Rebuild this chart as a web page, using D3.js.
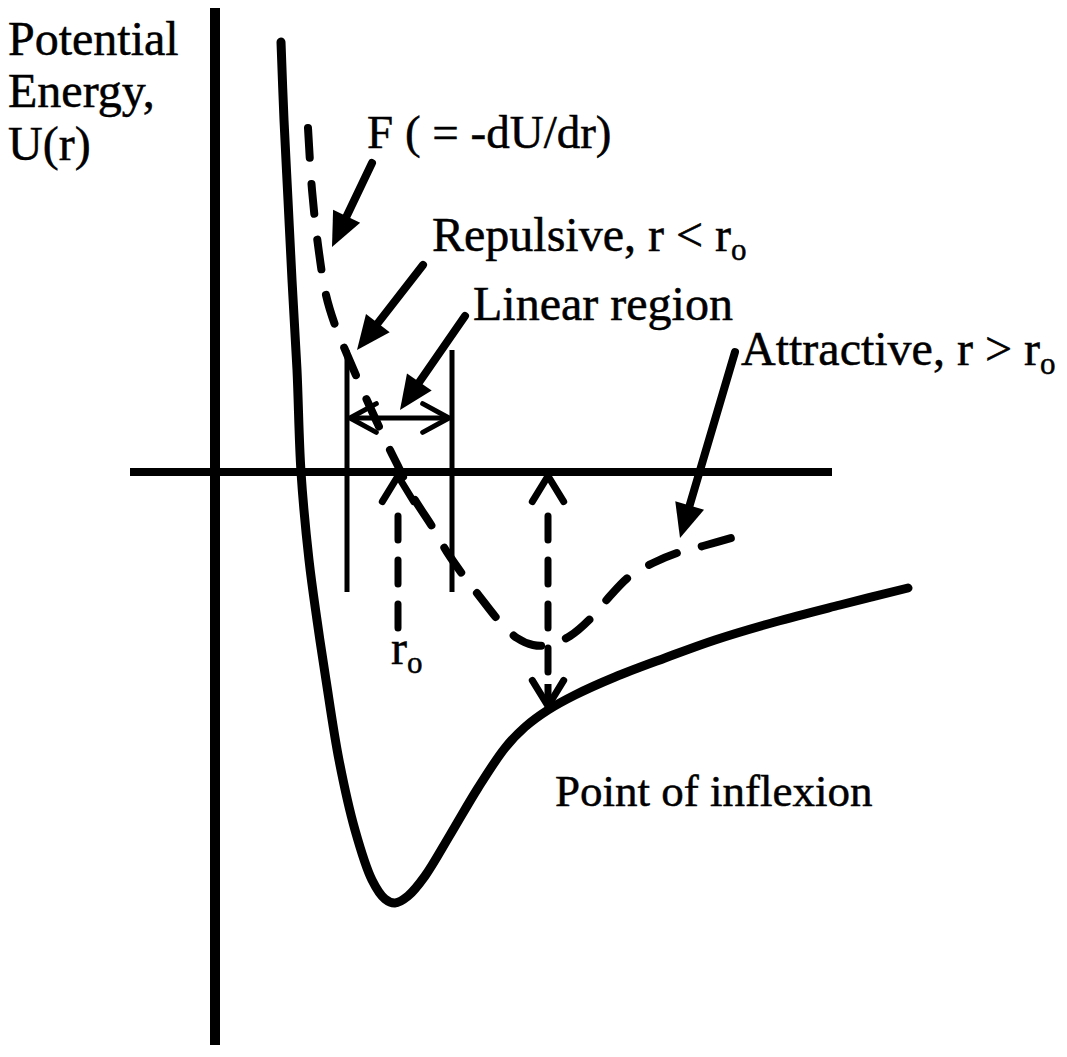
<!DOCTYPE html>
<html>
<head>
<meta charset="utf-8">
<script src="https://cdn.jsdelivr.net/npm/d3@7"></script>
<style>
  body { margin: 0; background: #fff; }
  svg text { font-family: "Liberation Serif", "Times New Roman", serif; fill: #000; stroke: #000; stroke-width: 0.5px; }
</style>
</head>
<body>
<div id="chart"></div>
<script>
// potential energy curve U(r) (diagram units)
const uCurve = [
    [6.6, 43.0], [6.9, 35.2], [7.3, 27.2], [7.7, 19.2], [8.2, 10.2], [8.6, 0],
    [9.4, -8.8], [10.2, -14.8], [11.1, -20.8], [12.4, -28.8], [14.0, -35.8],
    [15.7, -40.8], [17.0, -42.7], [18.0, -43.1], [19.3, -42.4], [21.0, -40.4],
    [23.5, -36.3], [26.3, -31.6], [29.0, -27.6], [31.0, -25.5], [33.3, -23.8],
    [36.0, -22.3], [40.0, -20.5], [45.0, -18.6], [50.0, -16.8], [56.0, -15.0],
    [62.5, -13.3], [69.3, -11.6]
];

// force curve F = -dU/dr (dashed)
const fCurve = [
    [9.3, 34.4], [9.7, 28.2], [10.3, 22.7], [11.1, 17.7], [12.0, 14.7],
    [13.1, 12.0], [14.3, 9.2], [16.0, 5.4], [17.5, 2.2], [18.3, 0.6],
    [19.7, -2.3], [21.8, -5.6], [23.2, -8.0], [24.8, -10.3], [26.5, -12.5],
    [28.5, -15.0], [30.2, -16.6], [31.8, -17.3], [33.3, -17.3], [35.5, -16.4],
    [37.8, -14.4], [39.5, -12.4], [41.5, -10.4], [43.8, -9.1], [46.5, -8.0],
    [48.8, -7.4], [52.0, -6.5]
];

// key positions
const r0 = 18.3;
const rInflexion = 33.3;
const uInflexion = -23.4;
const linearRegion = [13.2, 23.7];

// pointer arrows: [from, to]
const pointers = [
    [[15.7, 30.9], [11.7, 22.5]],   // F
    [[20.8, 20.7], [14.2, 12.2]],   // Repulsive
    [[25.0, 15.6], [18.5, 6.2]],    // Linear region
    [[52.0, 12.0], [46.5, -6.6]]    // Attractive
];

// labels: text, subscript, r, U
const labels = [
    {text: "Potential", sub: "", r: -20.7, u: 41.7, size: 48},
    {text: "Energy,", sub: "", r: -20.7, u: 36.5, size: 48},
    {text: "U(r)", sub: "", r: -20.7, u: 31.2, size: 48},
    {text: "F ( = -dU/dr)", sub: "", r: 15.2, u: 32.4, size: 47},
    {text: "Repulsive, r < r", sub: "o", r: 21.7, u: 22.1, size: 48},
    {text: "Linear region", sub: "", r: 25.8, u: 15.2, size: 48},
    {text: "Attractive, r > r", sub: "o", r: 52.6, u: 10.7, size: 48},
    {text: "r", sub: "o", r: 17.6, u: -19.2, size: 48},
    {text: "Point of inflexion", sub: "", r: 34.0, u: -33.4, size: 45}
];

const width = 1067, height = 1057;

const svg = d3.select("#chart").append("svg")
    .attr("width", width)
    .attr("height", height);

svg.append("rect").attr("width", width).attr("height", height).attr("fill", "#fff");

const x = d3.scaleLinear().domain([0, 70]).range([215, 915]);
const y = d3.scaleLinear().domain([-56, 47.2]).range([1032, 0]);

const line = d3.line()
    .x(d => x(d[0]))
    .y(d => y(d[1]))
    .curve(d3.curveCatmullRom.alpha(0.5));

// axes
svg.append("line")
    .attr("x1", x(0)).attr("x2", x(0))
    .attr("y1", y(46.4)).attr("y2", y(-57.3))
    .attr("stroke", "#000").attr("stroke-width", 10);

svg.append("line")
    .attr("x1", x(-8.5)).attr("x2", x(61.7))
    .attr("y1", y(0)).attr("y2", y(0))
    .attr("stroke", "#000").attr("stroke-width", 8);

// U(r)
svg.append("path")
    .datum(uCurve)
    .attr("d", line)
    .attr("fill", "none")
    .attr("stroke", "#000")
    .attr("stroke-width", 9)
    .attr("stroke-linecap", "round");

// F dashed
svg.append("path")
    .datum(fCurve)
    .attr("d", line)
    .attr("fill", "none")
    .attr("stroke", "#000")
    .attr("stroke-width", 8)
    .attr("stroke-dasharray", "30 26")
    .attr("stroke-linecap", "round");

// linear region bracket
linearRegion.forEach(r => {
    svg.append("line")
        .attr("x1", x(r)).attr("x2", x(r))
        .attr("y1", y(12.2)).attr("y2", y(-12.0))
        .attr("stroke", "#000").attr("stroke-width", 5);
});

// open arrow head (chevron) at tip, pointing away from "from"
function chevron(tip, from, len, ang, sw) {
    let a = Math.atan2(from[1] - tip[1], from[0] - tip[0]);
    let p1 = [tip[0] + len * Math.cos(a + ang), tip[1] + len * Math.sin(a + ang)];
    let p2 = [tip[0] + len * Math.cos(a - ang), tip[1] + len * Math.sin(a - ang)];
    svg.append("path")
        .attr("d", d3.line()([p1, tip, p2]))
        .attr("fill", "none")
        .attr("stroke", "#000")
        .attr("stroke-width", sw)
        .attr("stroke-linecap", "round")
        .attr("stroke-linejoin", "round");
}

// double arrow across linear region
let yL = y(5.4);
svg.append("line")
    .attr("x1", x(linearRegion[0]) + 3).attr("x2", x(linearRegion[1]) - 3)
    .attr("y1", yL).attr("y2", yL)
    .attr("stroke", "#000").attr("stroke-width", 5);
chevron([x(linearRegion[0]) + 3, yL], [x(linearRegion[1]), yL], 30, 0.5, 5);
chevron([x(linearRegion[1]) - 3, yL], [x(linearRegion[0]), yL], 30, 0.5, 5);

// dashed vertical arrows (r0 and inflexion)
function dashedArrow(r, uTop, uBottom, bothEnds) {
    let xp = x(r);
    let top = [xp, y(uTop)], bot = [xp, y(uBottom)];
    svg.append("line")
        .attr("x1", xp).attr("x2", xp)
        .attr("y1", top[1] + 40).attr("y2", bothEnds ? bot[1] - 28 : bot[1])
        .attr("stroke", "#000").attr("stroke-width", 7)
        .attr("stroke-dasharray", "24 20")
        .attr("stroke-linecap", "round");
    chevron(top, bot, 30, 0.55, 7);
    if (bothEnds) {
        chevron(bot, top, 30, 0.55, 7);
        svg.append("line")
            .attr("x1", xp).attr("x2", xp)
            .attr("y1", bot[1] - 22).attr("y2", bot[1])
            .attr("stroke", "#000").attr("stroke-width", 7);
    }
}
dashedArrow(r0, -0.4, -15.8, false);
dashedArrow(rInflexion, -0.4, uInflexion, true);

// pointer arrows with filled heads
pointers.forEach(p => {
    let from = [x(p[0][0]), y(p[0][1])];
    let tip = [x(p[1][0]), y(p[1][1])];
    let a = Math.atan2(tip[1] - from[1], tip[0] - from[0]);
    let hl = 34, hw = 15;
    let base = [tip[0] - hl * Math.cos(a), tip[1] - hl * Math.sin(a)];
    svg.append("line")
        .attr("x1", from[0]).attr("y1", from[1])
        .attr("x2", base[0]).attr("y2", base[1])
        .attr("stroke", "#000").attr("stroke-width", 8)
        .attr("stroke-linecap", "round");
    svg.append("path")
        .attr("d", d3.line()([
            tip,
            [base[0] + hw * Math.sin(a), base[1] - hw * Math.cos(a)],
            [base[0] - hw * Math.sin(a), base[1] + hw * Math.cos(a)]
        ]) + "Z")
        .attr("fill", "#000");
});

// labels
labels.forEach(l => {
    let t = svg.append("text")
        .attr("x", x(l.r))
        .attr("y", y(l.u))
        .style("font-size", l.size + "px")
        .text(l.text);
    if (l.sub) {
        t.append("tspan")
            .attr("dy", 9)
            .style("font-size", Math.round(l.size * 0.65) + "px")
            .text(l.sub);
    }
});
</script>
</body>
</html>
